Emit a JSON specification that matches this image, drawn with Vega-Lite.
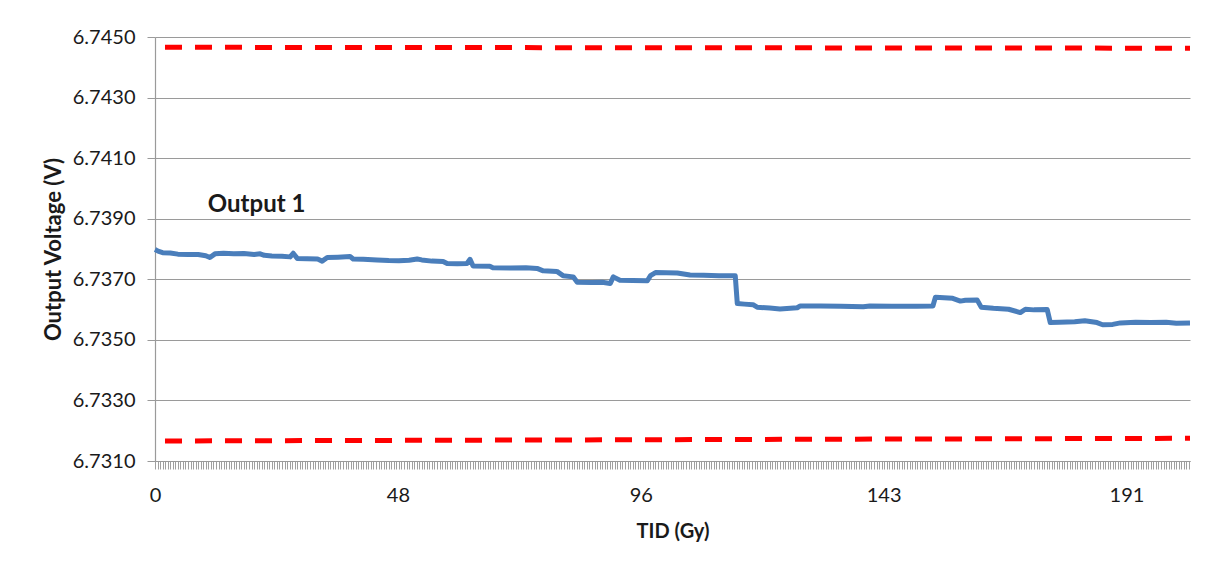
{
  "$schema": "https://vega.github.io/schema/vega-lite/v6.json",
  "width": 1035,
  "height": 424,
  "autosize": {"type": "none"},
  "padding": {"left": 155, "top": 37, "right": 27, "bottom": 119},
  "background": "white",
  "config": {
    "view": {"stroke": null},
    "font": "Lato",
    "axis": {"labelColor": "#1a1a1a", "titleColor": "#1a1a1a", "labelFont": "Lato", "titleFont": "Lato"}
  },
  "datasets": {
    "output1": [
      {"tid": 0, "voltage": 6.73798}, {"tid": 0.6, "voltage": 6.73793}, {"tid": 1.5, "voltage": 6.73788},
      {"tid": 3.0, "voltage": 6.73787}, {"tid": 4.5, "voltage": 6.73783}, {"tid": 6.5, "voltage": 6.73782},
      {"tid": 8.5, "voltage": 6.73782}, {"tid": 10.0, "voltage": 6.73778}, {"tid": 10.8, "voltage": 6.73772},
      {"tid": 11.8, "voltage": 6.73784}, {"tid": 13.5, "voltage": 6.73786}, {"tid": 15.5, "voltage": 6.73784},
      {"tid": 17.5, "voltage": 6.73785}, {"tid": 19.5, "voltage": 6.73782}, {"tid": 20.7, "voltage": 6.73784},
      {"tid": 21.5, "voltage": 6.73779}, {"tid": 23.0, "voltage": 6.73777}, {"tid": 25.0, "voltage": 6.73776},
      {"tid": 26.6, "voltage": 6.73774}, {"tid": 27.2, "voltage": 6.73786}, {"tid": 28.0, "voltage": 6.73769},
      {"tid": 30.0, "voltage": 6.73768}, {"tid": 32.0, "voltage": 6.73767}, {"tid": 32.9, "voltage": 6.7376},
      {"tid": 33.9, "voltage": 6.73772}, {"tid": 36.0, "voltage": 6.73773}, {"tid": 38.4, "voltage": 6.73775},
      {"tid": 39.0, "voltage": 6.73767}, {"tid": 41.0, "voltage": 6.73766}, {"tid": 43.7, "voltage": 6.73764},
      {"tid": 46.0, "voltage": 6.73762}, {"tid": 48.0, "voltage": 6.73761}, {"tid": 50.0, "voltage": 6.73763},
      {"tid": 51.6, "voltage": 6.73767}, {"tid": 52.5, "voltage": 6.73764}, {"tid": 54.5, "voltage": 6.7376},
      {"tid": 56.7, "voltage": 6.73759}, {"tid": 57.5, "voltage": 6.73752}, {"tid": 59.5, "voltage": 6.73751},
      {"tid": 61.4, "voltage": 6.73752}, {"tid": 62.0, "voltage": 6.73766}, {"tid": 62.6, "voltage": 6.73744},
      {"tid": 65.9, "voltage": 6.73743}, {"tid": 66.5, "voltage": 6.73738}, {"tid": 70.0, "voltage": 6.73737},
      {"tid": 73.0, "voltage": 6.73738}, {"tid": 75.2, "voltage": 6.73736}, {"tid": 76.4, "voltage": 6.73728},
      {"tid": 79.1, "voltage": 6.73726}, {"tid": 80.3, "voltage": 6.73712}, {"tid": 82.3, "voltage": 6.73708},
      {"tid": 83.1, "voltage": 6.7369}, {"tid": 86.0, "voltage": 6.73689}, {"tid": 88.0, "voltage": 6.7369},
      {"tid": 89.6, "voltage": 6.73686}, {"tid": 90.2, "voltage": 6.73708}, {"tid": 91.5, "voltage": 6.73697},
      {"tid": 94.0, "voltage": 6.73696}, {"tid": 96.9, "voltage": 6.73695}, {"tid": 97.5, "voltage": 6.73712},
      {"tid": 98.5, "voltage": 6.73722}, {"tid": 102.8, "voltage": 6.73721}, {"tid": 105.3, "voltage": 6.73714},
      {"tid": 108.0, "voltage": 6.73713}, {"tid": 111.0, "voltage": 6.73712}, {"tid": 114.2, "voltage": 6.73712},
      {"tid": 114.6, "voltage": 6.7362}, {"tid": 116.0, "voltage": 6.73618}, {"tid": 117.7, "voltage": 6.73616},
      {"tid": 118.5, "voltage": 6.73608}, {"tid": 121.0, "voltage": 6.73605}, {"tid": 123.0, "voltage": 6.73602},
      {"tid": 126.4, "voltage": 6.73606}, {"tid": 127.0, "voltage": 6.73612}, {"tid": 131.0, "voltage": 6.73612},
      {"tid": 135.0, "voltage": 6.73611}, {"tid": 139.4, "voltage": 6.73609}, {"tid": 140.7, "voltage": 6.73612},
      {"tid": 145.0, "voltage": 6.73611}, {"tid": 150.0, "voltage": 6.73611}, {"tid": 153.1, "voltage": 6.73612},
      {"tid": 153.6, "voltage": 6.73641}, {"tid": 157.0, "voltage": 6.73637}, {"tid": 158.5, "voltage": 6.73628},
      {"tid": 159.5, "voltage": 6.73631}, {"tid": 161.8, "voltage": 6.73632}, {"tid": 162.6, "voltage": 6.73608},
      {"tid": 165.0, "voltage": 6.73604}, {"tid": 168.0, "voltage": 6.73601}, {"tid": 170.3, "voltage": 6.7359},
      {"tid": 171.3, "voltage": 6.73601}, {"tid": 173.0, "voltage": 6.73599}, {"tid": 175.6, "voltage": 6.736},
      {"tid": 176.2, "voltage": 6.73557}, {"tid": 178.0, "voltage": 6.73558}, {"tid": 181.0, "voltage": 6.7356},
      {"tid": 183.0, "voltage": 6.73563}, {"tid": 185.4, "voltage": 6.73557}, {"tid": 186.5, "voltage": 6.7355},
      {"tid": 188.5, "voltage": 6.73551}, {"tid": 190.0, "voltage": 6.73556}, {"tid": 193.0, "voltage": 6.73558},
      {"tid": 196.0, "voltage": 6.73557}, {"tid": 199.0, "voltage": 6.73558}, {"tid": 201.0, "voltage": 6.73555},
      {"tid": 203.7, "voltage": 6.73556}
    ],
    "limits": [
      {"tid": 0, "voltage": 6.74466, "limit": "upper"},
      {"tid": 203.7, "voltage": 6.74463, "limit": "upper"},
      {"tid": 0, "voltage": 6.73166, "limit": "lower"},
      {"tid": 203.7, "voltage": 6.73175, "limit": "lower"}
    ],
    "labels": [
      {"tid": 10.4, "voltage": 6.73945, "text": "Output 1"}
    ]
  },
  "encoding": {
    "y": {
      "field": "voltage",
      "type": "quantitative",
      "scale": {"domain": [6.731, 6.745], "nice": false, "zero": false},
      "axis": {
        "values": [6.731, 6.733, 6.735, 6.737, 6.739, 6.741, 6.743, 6.745],
        "format": ".4f",
        "grid": true,
        "gridColor": "#9a9a9a",
        "gridWidth": 1.2,
        "domainColor": "#9a9a9a",
        "domainWidth": 1.2,
        "tickColor": "#9a9a9a",
        "tickSize": 8,
        "labelPadding": 12,
        "labelFontSize": 20,
        "title": "Output Voltage (V)",
        "titleFontSize": 22,
        "titleFontWeight": "bold",
        "titlePadding": 7
      }
    }
  },
  "layer": [
    {
      "data": {"name": "limits"},
      "mark": {"type": "line", "color": "#ff0000", "strokeWidth": 5, "strokeDash": [17, 13], "strokeDashOffset": 20},
      "encoding": {
        "x": {
          "field": "tid",
          "type": "quantitative",
          "scale": {"domain": [0, 203.7], "nice": false, "zero": false},
          "axis": {
            "orient": "bottom",
            "labels": false,
            "grid": false,
            "domain": true,
            "domainColor": "#9a9a9a",
            "domainWidth": 1.2,
            "ticks": true,
            "tickCount": 400,
            "tickSize": 8,
            "tickColor": "#a0a0a0",
            "tickWidth": 1,
            "title": null
          }
        },
        "detail": {"field": "limit"}
      }
    },
    {
      "data": {"name": "output1"},
      "mark": {"type": "line", "color": "#4a7ebb", "strokeWidth": 5, "strokeJoin": "round"},
      "encoding": {
        "x": {
          "field": "tid",
          "type": "quantitative",
          "scale": {"domain": [0, 203.7], "nice": false, "zero": false},
          "axis": {
            "orient": "bottom",
            "values": [0, 47.8, 95.6, 143.4, 191.2],
            "format": ".0f",
            "labelFlush": false,
            "ticks": false,
            "domain": false,
            "grid": false,
            "labelPadding": 24,
            "labelFontSize": 20,
            "title": "TID (Gy)",
            "titleFontSize": 20,
            "titleFontWeight": "bold",
            "titlePadding": 16
          }
        }
      }
    },
    {
      "data": {"name": "labels"},
      "mark": {"type": "text", "align": "left", "baseline": "middle", "fontSize": 24, "fontWeight": "bold", "color": "#1a1a1a", "font": "Lato"},
      "encoding": {
        "x": {"field": "tid", "type": "quantitative", "scale": {"domain": [0, 203.7], "nice": false, "zero": false}, "axis": null},
        "text": {"field": "text"}
      }
    }
  ],
  "resolve": {"axis": {"x": "independent"}}
}
